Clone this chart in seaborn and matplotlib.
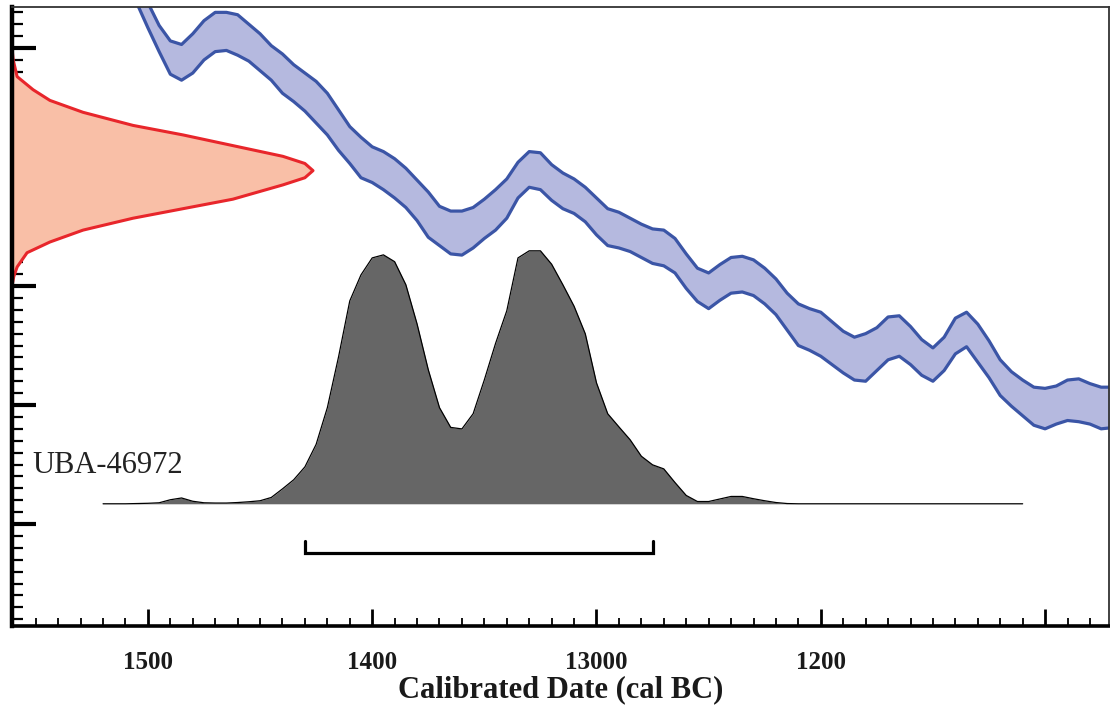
import matplotlib
matplotlib.use("Agg")
import matplotlib.pyplot as plt
from matplotlib.ticker import FixedLocator, MultipleLocator
import pandas as pd
import seaborn as sns

# calibration curve band (cal BC, 5 yr steps) - upper / lower edge in BP
cal_years = list(range(1510, 1065, -5))
curve_upper = [3278, 3259, 3238, 3219, 3206, 3203, 3212, 3223, 3230, 3230,
               3228, 3220, 3212, 3202, 3195, 3186, 3179, 3172, 3162, 3148,
               3134, 3125, 3117, 3113, 3107, 3099, 3089, 3079, 3067, 3063,
               3063, 3066, 3073, 3081, 3090, 3104, 3113, 3112, 3102, 3095,
               3090, 3083, 3074, 3065, 3062, 3057, 3052, 3048, 3047, 3040,
               3027, 3015, 3011, 3018, 3024, 3025, 3022, 3015, 3006, 2994,
               2985, 2981, 2978, 2970, 2962, 2957, 2960, 2965, 2974, 2975,
               2966, 2955, 2948, 2957, 2973, 2978, 2968, 2954, 2938, 2928,
               2921, 2915, 2914, 2916, 2921, 2922, 2918, 2915, 2915]
curve_lower = [3257, 3238, 3217, 3197, 3178, 3173, 3179, 3190, 3197, 3198,
               3194, 3189, 3181, 3173, 3162, 3155, 3147, 3137, 3127, 3114,
               3103, 3091, 3087, 3081, 3074, 3066, 3055, 3041, 3034, 3027,
               3026, 3032, 3040, 3047, 3057, 3074, 3083, 3081, 3072, 3065,
               3061, 3054, 3043, 3034, 3032, 3029, 3024, 3019, 3017, 3011,
               2998, 2987, 2981, 2988, 2994, 2995, 2992, 2985, 2976, 2963,
               2950, 2946, 2941, 2934, 2927, 2921, 2920, 2929, 2938, 2941,
               2934, 2925, 2920, 2929, 2943, 2949, 2936, 2923, 2908, 2899,
               2891, 2883, 2880, 2884, 2887, 2886, 2884, 2880, 2881]

# radiocarbon measurement (BP) and its relative probability
meas_bp = [3200, 3190, 3176, 3165, 3156, 3146, 3135, 3127, 3118, 3109, 3103,
           3097, 3091, 3085, 3073, 3065, 3057, 3047, 3037, 3028, 3016, 3008,
           3000]
meas_prob = [0.0, 0.004, 0.017, 0.070, 0.126, 0.236, 0.402, 0.568, 0.734,
             0.900, 0.973, 1.0, 0.973, 0.900, 0.734, 0.568, 0.402, 0.236,
             0.126, 0.050, 0.017, 0.006, 0.0]

# calibrated date distribution (cal BC)
post_years = list(range(1520, 1205, -5)) + [1110]
post_prob = [0, 0, 0, 0.001, 0.002, 0.004, 0.016, 0.023, 0.010, 0.004,
             0.003, 0.003, 0.005, 0.008, 0.012, 0.025, 0.059, 0.095, 0.146, 0.235,
             0.380, 0.581, 0.802, 0.905, 0.972, 0.984, 0.957, 0.866, 0.711, 0.530,
             0.380, 0.302, 0.296, 0.356, 0.490, 0.634, 0.763, 0.972, 1.000, 1.000,
             0.947, 0.866, 0.781, 0.672, 0.478, 0.356, 0.304, 0.253, 0.188, 0.154,
             0.138, 0.084, 0.033, 0.009, 0.009, 0.019, 0.029, 0.029, 0.020, 0.012,
             0.005, 0.001, 0, 0]

range_95 = [1430, 1275]
sample_name = "UBA-46972"
xtick_vals = [1500, 1400, 1300, 1200, 1100]
xtick_text = ["1500", "1400", "13000", "1200", ""]
ytick_vals = [3200, 3100, 3000, 2900, 2800]

curve = pd.DataFrame({"cal": cal_years, "upper": curve_upper, "lower": curve_lower})
post = pd.DataFrame({"cal": post_years, "prob": post_prob})

sns.set_style("white")
plt.rcParams["font.family"] = ["Liberation Serif", "DejaVu Serif"]

fig = plt.figure(figsize=(11.1, 7.09), dpi=100)
ax = fig.add_axes([12 / 1110, 83 / 709, 1097 / 1110, 619 / 709])

x_left, x_right = 1560.6, 1071.5
y_bot, y_top = 2714.3, 3234.5
ax.set_xlim(x_left, x_right)
ax.set_ylim(y_bot, y_top)

# calibration curve
blue_edge = "#3b55a6"
ax.fill_between(curve["cal"], curve["lower"], curve["upper"], color="#b5b9df", lw=0)
sns.lineplot(data=curve, x="cal", y="upper", ax=ax, color=blue_edge, lw=2.3,
             sort=False, estimator=None)
sns.lineplot(data=curve, x="cal", y="lower", ax=ax, color=blue_edge, lw=2.3,
             sort=False, estimator=None)

# measurement on the y axis
red_scale = 134.2
meas_x = [x_left - p * red_scale for p in meas_prob]
ax.fill_betweenx(meas_bp, x_left, meas_x, color="#f9bfa7", lw=0)
ax.plot(meas_x, meas_bp, color="#e8262b", lw=2.2)

# calibrated distribution
base, height = 2817, 212.6
post_y = [base + p * height for p in post["prob"]]
ax.fill_between(post["cal"], base, post_y, color="#666666", lw=0)
ax.plot(post["cal"], post_y, color="black", lw=0.9)

# 95.4% range bracket
ax.plot([range_95[0], range_95[0], range_95[1], range_95[1]],
        [2786, 2776, 2776, 2786], color="black", lw=2.3,
        solid_joinstyle="miter")

ax.text(1551.5, 2843, sample_name, fontsize=22, color="#222222",
        ha="left", va="baseline")

# axes styling
ax.xaxis.set_major_locator(FixedLocator(xtick_vals))
ax.set_xticklabels(xtick_text)
ax.xaxis.set_minor_locator(MultipleLocator(10))
ax.yaxis.set_major_locator(FixedLocator(ytick_vals))
ax.yaxis.set_minor_locator(MultipleLocator(10))
ax.tick_params(axis="both", which="both", direction="in", colors="black",
               bottom=True, left=True, top=False, right=False)
ax.tick_params(axis="x", which="major", length=12, width=2, pad=18,
               labelsize=18, labelcolor="#1a1a1a")
ax.tick_params(axis="x", which="minor", length=6, width=1.3)
ax.tick_params(axis="y", which="major", length=17, width=3, labelleft=False)
ax.tick_params(axis="y", which="minor", length=8, width=1.6)
for lab in ax.get_xticklabels():
    lab.set_fontweight("bold")

ax.set_xlabel("Calibrated Date (cal BC)", fontsize=22, fontweight="bold",
              color="#1a1a1a", labelpad=1)
ax.set_ylabel("")

ax.spines["left"].set_linewidth(3.2)
ax.spines["bottom"].set_linewidth(2.6)
for s in ["left", "bottom"]:
    ax.spines[s].set_color("black")
for s in ["top", "right"]:
    ax.spines[s].set_linewidth(1.3)
    ax.spines[s].set_color("#333333")

fig.savefig("out.png", dpi=100)
